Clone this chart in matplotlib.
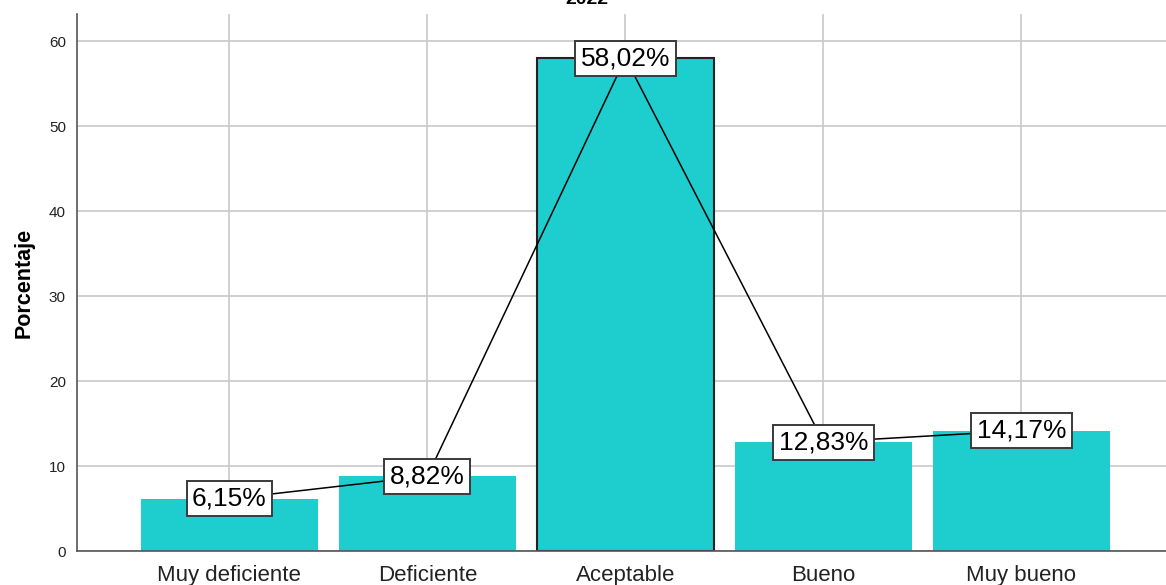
import numpy as np
import matplotlib.pyplot as plt

plt.rcParams['font.family'] = ['Liberation Sans', 'DejaVu Sans']

categorias = ["Muy deficiente", "Deficiente", "Aceptable", "Bueno", "Muy bueno"]
porcentajes = [6.15, 8.82, 58.02, 12.83, 14.17]
etiquetas = ["6,15%", "8,82%", "58,02%", "12,83%", "14,17%"]

color_barra = "#1ecdcd"

fig = plt.figure(figsize=(11.66, 5.85), dpi=100)
ax = fig.add_axes([0.066, 0.058, 0.934, 0.918])

x = np.arange(len(categorias))
barras = ax.bar(x, porcentajes, width=0.89, color=color_barra, zorder=2)
# la barra seleccionada lleva contorno
barras[2].set_edgecolor("#222222")
barras[2].set_linewidth(1.5)

# linea que une las etiquetas
ax.plot(x, porcentajes, color="black", linewidth=1.1, zorder=3)

for xi, val, txt in zip(x, porcentajes, etiquetas):
    ax.text(xi, val, txt, ha="center", va="center", fontsize=19, zorder=4,
            bbox=dict(boxstyle="square,pad=0.21", facecolor="white",
                      edgecolor="#3a3a3a", linewidth=1.4))

ax.set_xlim(-0.77, 4.73)
ax.set_ylim(0, 63.2)
ax.set_yticks(range(0, 61, 10))
ax.set_xticks(x)
ax.set_xticklabels(categorias, fontsize=16, color="#222222")
ax.tick_params(axis="both", length=0)
ax.tick_params(axis="y", labelsize=11, pad=8, labelcolor="#222222")
ax.tick_params(axis="x", pad=10)

ax.grid(True, color="#c8c8c8", linewidth=1.2, zorder=0)
ax.set_axisbelow(True)
for lado in ["top", "right"]:
    ax.spines[lado].set_visible(False)
for lado in ["left", "bottom"]:
    ax.spines[lado].set_color("#555555")
    ax.spines[lado].set_linewidth(1.2)

ax.set_ylabel("Porcentaje", fontsize=15.5, fontweight="bold", labelpad=10)
fig.text(0.503, 1.0, "2022", ha="center", va="center", fontsize=14,
         fontweight="bold")

fig.savefig("out.png", dpi=100)
